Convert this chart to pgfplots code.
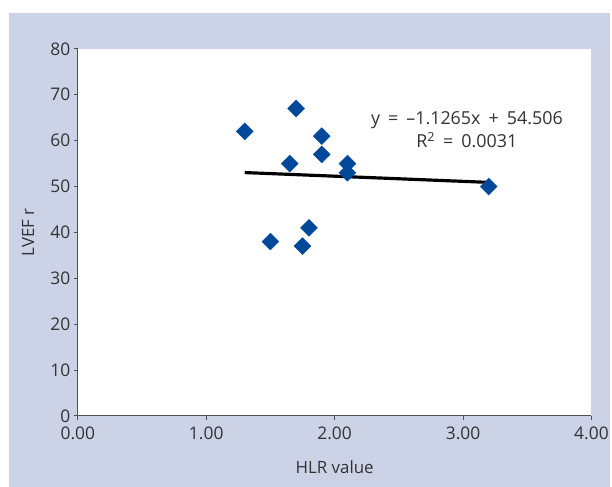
\documentclass[border=0pt]{standalone}
\usepackage{pgfplots}
\pgfplotsset{compat=1.18}
\usepackage{fontspec}
\setmainfont{Open Sans}
\definecolor{panel}{HTML}{CDD3E7}
\definecolor{pts}{HTML}{00489A}
\definecolor{axisgray}{HTML}{505050}
\definecolor{txt}{HTML}{333333}
\begin{document}
\begin{tikzpicture}
\fill[white] (0bp,0bp) rectangle (612bp,488bp);
\fill[panel] (9bp,0bp) rectangle (612bp,475bp);
\begin{axis}[
    at={(78bp,71bp)}, anchor=south west,
    scale only axis,
    width=515bp, height=368bp,
    xmin=0, xmax=4, ymin=0, ymax=80,
    xtick={0,1,2,3,4},
    ytick={0,10,...,80},
    xticklabel style={/pgf/number format/fixed, /pgf/number format/fixed zerofill,
        /pgf/number format/precision=2, yshift=-3bp},
    /pgf/number format/assume math mode=true,
    axis background/.style={fill=white},
    axis x line*=bottom, axis y line*=left,
    axis line style={axisgray, line width=0.9pt, -},
    tick style={axisgray, line width=0.9pt},
    tick align=outside,
    major tick length=4bp,
    tick label style={font=\fontsize{17.5}{20}\selectfont, text=txt},
    label style={font=\fontsize{17}{20}\selectfont, text=txt},
    xlabel={HLR value},
    ylabel={LVEF r},
    xlabel style={at={(axis description cs:0.5,-0.139)}, anchor=center},
    ylabel style={at={(axis description cs:-0.097,0.5)}, anchor=center},
    clip=false,
]
\addplot[only marks, mark=square*, mark size=6bp,
    mark options={rotate=45, fill=pts, draw=pts}]
    coordinates {
        (1.30,62)(1.70,67)(1.90,61)(1.90,57)(1.65,55)(2.10,55)
        (2.10,53)(1.80,41)(1.50,38)(1.75,37)(3.20,50)
    };
\addplot[black, line width=3.2pt] coordinates {(1.30,53.04)(3.20,50.90)};
\node[align=center, text=txt, font=\fontsize{18}{24}\selectfont]
    at (axis cs:3.03,62.4) {y\hspace{0.45em}=\hspace{0.45em}–1.1265x\hspace{0.45em}+\hspace{0.45em}54.506\\R\textsuperscript{2}\hspace{0.45em}=\hspace{0.45em}0.0031};
\end{axis}
\end{tikzpicture}
\end{document}
